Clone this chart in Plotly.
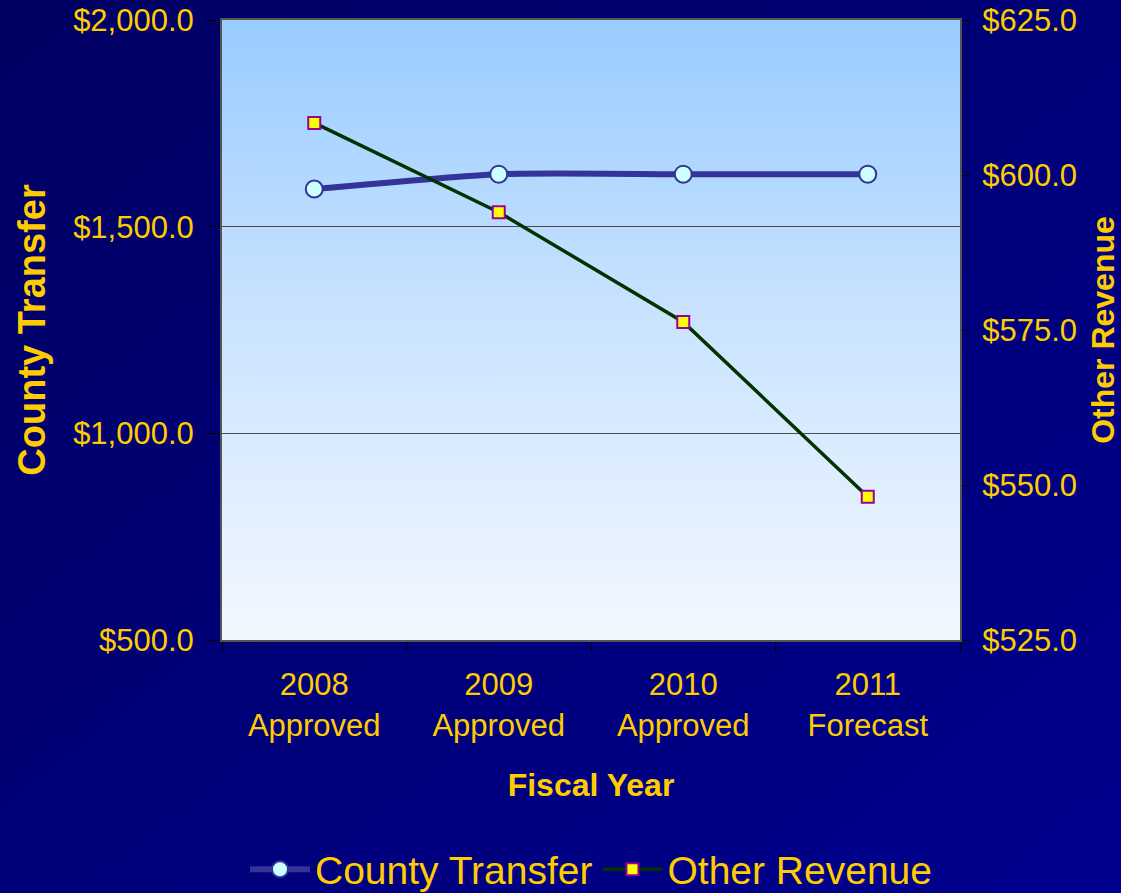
import base64
import plotly.graph_objects as go

categories = ["2008<br>Approved", "2009<br>Approved", "2010<br>Approved", "2011<br>Forecast"]
county_transfer = [1591, 1627, 1627, 1627]
other_revenue = [608.4, 594.0, 576.3, 548.1]

W, H = 1121, 893
L, R, T, B = 222, 161, 20, 253
PW, PH = W - L - R, H - T - B

GOLD = "#FFCC00"
FONT = "Liberation Sans, Arial, sans-serif"


def svg_grad(stops, x2="0", y2="1"):
    st = "".join(f'<stop offset="{o}" stop-color="{c}"/>' for o, c in stops)
    svg = (f'<svg xmlns="http://www.w3.org/2000/svg" width="100" height="100" preserveAspectRatio="none">'
           f'<defs><linearGradient id="g" x1="0" y1="0" x2="{x2}" y2="{y2}">{st}</linearGradient></defs>'
           f'<rect width="100" height="100" fill="url(#g)"/></svg>')
    return "data:image/svg+xml;base64," + base64.b64encode(svg.encode()).decode()


paper_bg = svg_grad([(0, "#000062"), (1, "#00008E")], x2="1", y2="1")
plot_bg = svg_grad([(0, "#99CCFF"), (0.5, "#CCE4FF"), (1, "#F2F8FF")])

fig = go.Figure()
fig.add_trace(go.Scatter(
    x=categories, y=county_transfer, name="County Transfer", mode="lines+markers",
    line=dict(color="#333399", width=6, shape="spline", smoothing=0.6),
    marker=dict(symbol="circle", size=17, color="#CCFFFF", line=dict(color="#333399", width=2)),
    yaxis="y"))
fig.add_trace(go.Scatter(
    x=categories, y=other_revenue, name="Other Revenue", mode="lines+markers",
    line=dict(color="#003300", width=3.5),
    marker=dict(symbol="square", size=12, color="#FFFF00", line=dict(color="#990099", width=2)),
    yaxis="y2"))

fig.update_layout(
    width=W, height=H,
    margin=dict(l=L, r=R, t=T, b=B, autoexpand=False),
    paper_bgcolor="#000077",
    plot_bgcolor="rgba(0,0,0,0)",
    font=dict(family=FONT, color=GOLD, size=31),
    images=[
        dict(source=paper_bg, xref="paper", yref="paper", x=-L / PW, y=1 + T / PH,
             sizex=W / PW, sizey=H / PH, sizing="stretch", layer="below", xanchor="left", yanchor="top"),
        dict(source=plot_bg, xref="paper", yref="paper", x=0, y=1, sizex=1, sizey=1,
             sizing="stretch", layer="below", xanchor="left", yanchor="top"),
    ],
    xaxis=dict(
        type="category", range=[-0.5, 3.5], tickson="boundaries", ticks="outside", ticklen=10,
        tickcolor="#000000",
        showline=True, linecolor="#555555", linewidth=2, mirror=True, showgrid=False,
        tickfont=dict(size=31, color=GOLD), ticklabelstandoff=16,
        title=dict(text="<b>Fiscal Year</b>", font=dict(size=32, color=GOLD), standoff=32),
    ),
    yaxis=dict(
        range=[500, 2000], dtick=500, tickprefix="$", tickformat=",.1f",
        ticks="outside", ticklen=12, tickcolor="#000000",
        showline=True, linecolor="#555555", linewidth=2, mirror=True,
        showgrid=True, gridcolor="#4D4D4D", gridwidth=1, zeroline=False,
        tickfont=dict(size=31, color=GOLD), ticklabelstandoff=8,
        title=dict(text="<b>County Transfer</b>", font=dict(size=38, color=GOLD), standoff=16),
    ),
    yaxis2=dict(
        range=[525, 625], dtick=25, tickprefix="$", tickformat=",.1f",
        overlaying="y", side="right", ticks="outside", ticklen=8, tickcolor="#000000",
        showline=True, linecolor="#555555", linewidth=2, showgrid=False, zeroline=False,
        tickfont=dict(size=31, color=GOLD), ticklabelstandoff=6,
        title=dict(text="<b>Other Revenue</b>", font=dict(size=32, color=GOLD), standoff=16),
    ),
    legend=dict(orientation="h", x=0.5, xanchor="center", y=-0.37, yanchor="middle",
                font=dict(size=39, color=GOLD), bgcolor="rgba(0,0,0,0)", itemwidth=60),
    showlegend=True,
)

fig.write_html("out.html", config={"displayModeBar": False},
               post_script="document.body.style.margin='0';document.body.style.overflow='hidden';")
